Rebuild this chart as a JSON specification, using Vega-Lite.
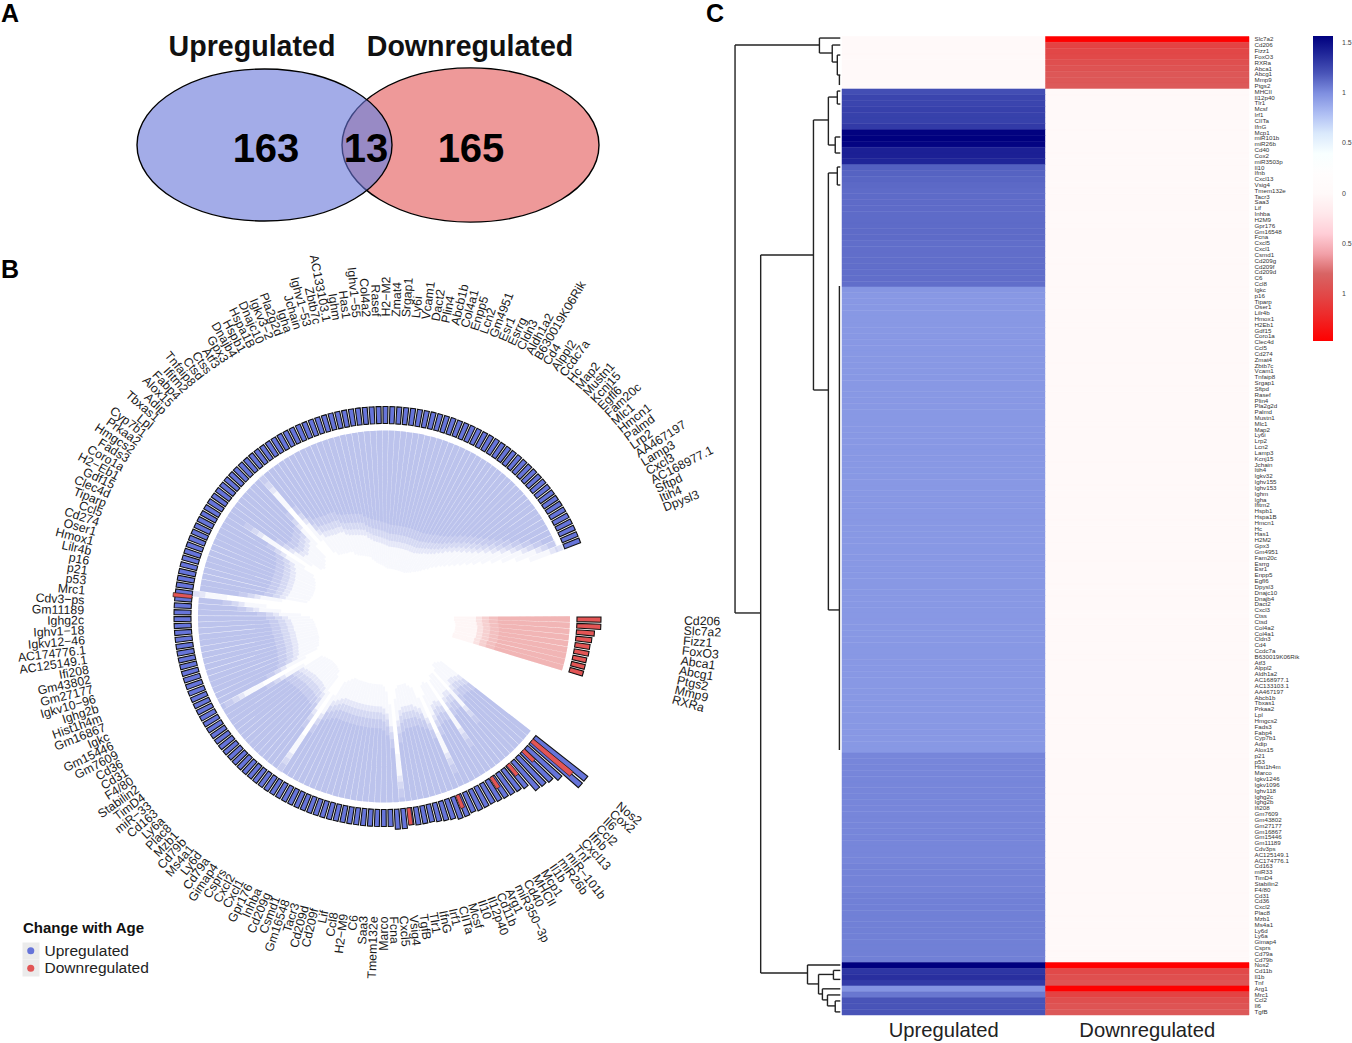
{"$schema":"https://vega.github.io/schema/vega-lite/v6.json","background":"white","padding":0,"spacing":0,"config":{"view":{"stroke":null},"font":"Liberation Sans","concat":{"spacing":0}},
"datasets":{"genes":[
{"g":"Cd206","p":-20,"a":-20.36,"b":-19.64,"r":217,"i":92,"d":"Downregulated"},
{"g":"Slc7a2","p":-19,"a":-19.36,"b":-18.64,"r":217,"i":92,"d":"Downregulated"},
{"g":"Fizz1","p":-18,"a":-18.36,"b":-17.64,"r":211,"i":93,"d":"Downregulated"},
{"g":"FoxO3","p":-17,"a":-17.36,"b":-16.64,"r":209,"i":94,"d":"Downregulated"},
{"g":"Abca1","p":-16,"a":-16.36,"b":-15.64,"r":208,"i":94,"d":"Downregulated"},
{"g":"Abcg1","p":-15,"a":-15.36,"b":-14.64,"r":208,"i":94,"d":"Downregulated"},
{"g":"Ptgs2","p":-14,"a":-14.36,"b":-13.64,"r":207,"i":94,"d":"Downregulated"},
{"g":"Mmp9","p":-13,"a":-13.36,"b":-12.64,"r":207,"i":93,"d":"Downregulated"},
{"g":"RXRa","p":-12,"a":-12.36,"b":-11.64,"r":207,"i":93,"d":"Downregulated"},
{"g":"Nos2","p":0,"a":-0.36,"b":0.36,"r":259,"i":94,"d":"Upregulated"},
{"g":"Cox2","p":1,"a":0.64,"b":1.36,"r":259,"i":92,"d":"Upregulated"},
{"g":"Il6","p":2,"a":1.64,"b":2.36,"r":239,"i":90,"d":"Upregulated"},
{"g":"Ccl2","p":3,"a":2.64,"b":3.36,"r":234,"i":90,"d":"Upregulated"},
{"g":"Ifnb","p":4,"a":3.64,"b":4.36,"r":232,"i":95,"d":"Upregulated"},
{"g":"Cxcl13","p":5,"a":4.64,"b":5.36,"r":231,"i":120,"d":"Upregulated"},
{"g":"Tnf","p":6,"a":5.64,"b":6.36,"r":222,"i":96,"d":"Upregulated"},
{"g":"miR−101b","p":7,"a":6.64,"b":7.36,"r":220,"i":96,"d":"Upregulated"},
{"g":"miR26b","p":8,"a":7.64,"b":8.36,"r":219,"i":100,"d":"Upregulated"},
{"g":"Il1b","p":9,"a":8.64,"b":9.36,"r":218,"i":135,"d":"Upregulated"},
{"g":"Mcp1","p":10,"a":9.64,"b":10.36,"r":217,"i":100,"d":"Upregulated"},
{"g":"MHCII","p":11,"a":10.64,"b":11.36,"r":216,"i":98,"d":"Upregulated"},
{"g":"Cd40","p":12,"a":11.64,"b":12.36,"r":216,"i":100,"d":"Upregulated"},
{"g":"miR350−3p","p":13,"a":12.64,"b":13.36,"r":216,"i":110,"d":"Upregulated"},
{"g":"Arg1","p":14,"a":13.64,"b":14.36,"r":215,"i":150,"d":"Upregulated"},
{"g":"Cd11b","p":15,"a":14.64,"b":15.36,"r":216,"i":110,"d":"Upregulated"},
{"g":"Il12p40","p":16,"a":15.64,"b":16.36,"r":216,"i":98,"d":"Upregulated"},
{"g":"Il10","p":17,"a":16.64,"b":17.36,"r":214,"i":95,"d":"Upregulated"},
{"g":"Mcsf","p":18,"a":17.64,"b":18.36,"r":213,"i":92,"d":"Upregulated"},
{"g":"CIITa","p":19,"a":18.64,"b":19.36,"r":212,"i":92,"d":"Upregulated"},
{"g":"Irf1","p":20,"a":19.64,"b":20.36,"r":211,"i":92,"d":"Upregulated"},
{"g":"IfnG","p":21,"a":20.64,"b":21.36,"r":211,"i":92,"d":"Upregulated"},
{"g":"Tlr1","p":22,"a":21.64,"b":22.36,"r":211,"i":95,"d":"Upregulated"},
{"g":"TgfB","p":23,"a":22.64,"b":23.36,"r":210,"i":105,"d":"Upregulated"},
{"g":"Vsig4","p":24,"a":23.64,"b":24.36,"r":213,"i":160,"d":"Upregulated"},
{"g":"Cxcl5","p":25,"a":24.64,"b":25.36,"r":213,"i":110,"d":"Upregulated"},
{"g":"Fcna","p":26,"a":25.64,"b":26.36,"r":210,"i":97,"d":"Upregulated"},
{"g":"Marco","p":27,"a":26.64,"b":27.36,"r":210,"i":92,"d":"Upregulated"},
{"g":"Tmem132e","p":28,"a":27.64,"b":28.36,"r":210,"i":90,"d":"Upregulated"},
{"g":"Saa3","p":29,"a":28.64,"b":29.36,"r":210,"i":90,"d":"Upregulated"},
{"g":"C6","p":30,"a":29.64,"b":30.36,"r":210,"i":90,"d":"Upregulated"},
{"g":"H2−M9","p":31,"a":30.64,"b":31.36,"r":210,"i":90,"d":"Upregulated"},
{"g":"Ccl8","p":32,"a":31.64,"b":32.36,"r":210,"i":90,"d":"Upregulated"},
{"g":"Lif","p":33,"a":32.64,"b":33.36,"r":210,"i":90,"d":"Upregulated"},
{"g":"Cd209f","p":34,"a":33.64,"b":34.36,"r":210,"i":90,"d":"Upregulated"},
{"g":"Cd209d","p":35,"a":34.64,"b":35.36,"r":210,"i":90,"d":"Upregulated"},
{"g":"Tacr3","p":36,"a":35.64,"b":36.36,"r":210,"i":90,"d":"Upregulated"},
{"g":"Gm16548","p":37,"a":36.64,"b":37.36,"r":210,"i":90,"d":"Upregulated"},
{"g":"Csmd1","p":38,"a":37.64,"b":38.36,"r":210,"i":90,"d":"Upregulated"},
{"g":"Cd209g","p":39,"a":38.64,"b":39.36,"r":210,"i":90,"d":"Upregulated"},
{"g":"Inhba","p":40,"a":39.64,"b":40.36,"r":210,"i":90,"d":"Upregulated"},
{"g":"Gpr176","p":41,"a":40.64,"b":41.36,"r":210,"i":92,"d":"Upregulated"},
{"g":"Cxcl1","p":42,"a":41.64,"b":42.36,"r":210,"i":95,"d":"Upregulated"},
{"g":"Cxcl2","p":43,"a":42.64,"b":43.36,"r":210,"i":98,"d":"Upregulated"},
{"g":"Csprs","p":44,"a":43.64,"b":44.36,"r":210,"i":115,"d":"Upregulated"},
{"g":"Gimap4","p":45,"a":44.64,"b":45.36,"r":210,"i":165,"d":"Upregulated"},
{"g":"Cd79a","p":46,"a":45.64,"b":46.36,"r":210,"i":115,"d":"Upregulated"},
{"g":"Ly6d","p":47,"a":46.64,"b":47.36,"r":210,"i":97,"d":"Upregulated"},
{"g":"Ms4a1","p":48,"a":47.64,"b":48.36,"r":210,"i":92,"d":"Upregulated"},
{"g":"Cd79b","p":49,"a":48.64,"b":49.36,"r":210,"i":91,"d":"Upregulated"},
{"g":"Mzb1","p":50,"a":49.64,"b":50.36,"r":210,"i":90,"d":"Upregulated"},
{"g":"Plac8","p":51,"a":50.64,"b":51.36,"r":210,"i":90,"d":"Upregulated"},
{"g":"Ly6a","p":52,"a":51.64,"b":52.36,"r":210,"i":90,"d":"Upregulated"},
{"g":"Cd163","p":53,"a":52.64,"b":53.36,"r":210,"i":90,"d":"Upregulated"},
{"g":"miR−33","p":54,"a":53.64,"b":54.36,"r":210,"i":91,"d":"Upregulated"},
{"g":"TimD4","p":55,"a":54.64,"b":55.36,"r":210,"i":92,"d":"Upregulated"},
{"g":"Stabilin2","p":56,"a":55.64,"b":56.36,"r":210,"i":93,"d":"Upregulated"},
{"g":"F4/80","p":57,"a":56.64,"b":57.36,"r":210,"i":95,"d":"Upregulated"},
{"g":"Cd31","p":58,"a":57.64,"b":58.36,"r":210,"i":115,"d":"Upregulated"},
{"g":"Cd36","p":59,"a":58.64,"b":59.36,"r":210,"i":160,"d":"Upregulated"},
{"g":"Gm7609","p":60,"a":59.64,"b":60.36,"r":210,"i":110,"d":"Upregulated"},
{"g":"Gm15446","p":61,"a":60.64,"b":61.36,"r":210,"i":96,"d":"Upregulated"},
{"g":"Igkc","p":62,"a":61.64,"b":62.36,"r":210,"i":93,"d":"Upregulated"},
{"g":"Gm16867","p":63,"a":62.64,"b":63.36,"r":210,"i":92,"d":"Upregulated"},
{"g":"Hist1h4m","p":64,"a":63.64,"b":64.36,"r":210,"i":91,"d":"Upregulated"},
{"g":"Ighg2b","p":65,"a":64.64,"b":65.36,"r":210,"i":90,"d":"Upregulated"},
{"g":"Igkv10−96","p":66,"a":65.64,"b":66.36,"r":210,"i":90,"d":"Upregulated"},
{"g":"Gm27177","p":67,"a":66.64,"b":67.36,"r":210,"i":90,"d":"Upregulated"},
{"g":"Gm43802","p":68,"a":67.64,"b":68.36,"r":210,"i":90,"d":"Upregulated"},
{"g":"Ifi208","p":69,"a":68.64,"b":69.36,"r":210,"i":90,"d":"Upregulated"},
{"g":"AC125149.1","p":70,"a":69.64,"b":70.36,"r":210,"i":91,"d":"Upregulated"},
{"g":"AC174776.1","p":71,"a":70.64,"b":71.36,"r":210,"i":91,"d":"Upregulated"},
{"g":"Igkv12−46","p":72,"a":71.64,"b":72.36,"r":210,"i":92,"d":"Upregulated"},
{"g":"Ighv1−18","p":73,"a":72.64,"b":73.36,"r":210,"i":93,"d":"Upregulated"},
{"g":"Ighg2c","p":74,"a":73.64,"b":74.36,"r":210,"i":96,"d":"Upregulated"},
{"g":"Gm11189","p":75,"a":74.64,"b":75.36,"r":210,"i":105,"d":"Upregulated"},
{"g":"Cdv3−ps","p":76,"a":75.64,"b":76.36,"r":210,"i":125,"d":"Upregulated"},
{"g":"Mrc1","p":77,"a":76.64,"b":77.36,"r":210,"i":140,"d":"Upregulated"},
{"g":"p53","p":78,"a":77.64,"b":78.36,"r":210,"i":180,"d":"Upregulated"},
{"g":"p21","p":79,"a":78.64,"b":79.36,"r":210,"i":125,"d":"Upregulated"},
{"g":"p16","p":80,"a":79.64,"b":80.36,"r":210,"i":100,"d":"Upregulated"},
{"g":"Lilr4b","p":81,"a":80.64,"b":81.36,"r":210,"i":98,"d":"Upregulated"},
{"g":"Hmox1","p":82,"a":81.64,"b":82.36,"r":210,"i":97,"d":"Upregulated"},
{"g":"Oser1","p":83,"a":82.64,"b":83.36,"r":210,"i":96,"d":"Upregulated"},
{"g":"Cd274","p":84,"a":83.64,"b":84.36,"r":210,"i":96,"d":"Upregulated"},
{"g":"Ccl5","p":85,"a":84.64,"b":85.36,"r":210,"i":96,"d":"Upregulated"},
{"g":"Tiparp","p":86,"a":85.64,"b":86.36,"r":210,"i":96,"d":"Upregulated"},
{"g":"Clec4d","p":87,"a":86.64,"b":87.36,"r":210,"i":97,"d":"Upregulated"},
{"g":"Gdf15","p":88,"a":87.64,"b":88.36,"r":210,"i":98,"d":"Upregulated"},
{"g":"H2−Eb1","p":89,"a":88.64,"b":89.36,"r":210,"i":100,"d":"Upregulated"},
{"g":"Coro1a","p":90,"a":89.64,"b":90.36,"r":210,"i":103,"d":"Upregulated"},
{"g":"Fads3","p":91,"a":90.64,"b":91.36,"r":210,"i":115,"d":"Upregulated"},
{"g":"Hmgcs2","p":92,"a":91.64,"b":92.36,"r":210,"i":145,"d":"Upregulated"},
{"g":"Prkaa2","p":93,"a":92.64,"b":93.36,"r":210,"i":110,"d":"Upregulated"},
{"g":"Cyp7b1","p":94,"a":93.64,"b":94.36,"r":210,"i":100,"d":"Upregulated"},
{"g":"Lpl","p":95,"a":94.64,"b":95.36,"r":210,"i":98,"d":"Upregulated"},
{"g":"Tbxas1","p":96,"a":95.64,"b":96.36,"r":210,"i":100,"d":"Upregulated"},
{"g":"Adip","p":97,"a":96.64,"b":97.36,"r":210,"i":102,"d":"Upregulated"},
{"g":"Alox15","p":98,"a":97.64,"b":98.36,"r":210,"i":105,"d":"Upregulated"},
{"g":"Fabp4","p":99,"a":98.64,"b":99.36,"r":210,"i":120,"d":"Upregulated"},
{"g":"Ifitm2","p":100,"a":99.64,"b":100.36,"r":210,"i":165,"d":"Upregulated"},
{"g":"Tnfaip8","p":101,"a":100.64,"b":101.36,"r":210,"i":120,"d":"Upregulated"},
{"g":"Ctsd","p":102,"a":101.64,"b":102.36,"r":210,"i":103,"d":"Upregulated"},
{"g":"Ctss","p":103,"a":102.64,"b":103.36,"r":210,"i":98,"d":"Upregulated"},
{"g":"Atf3","p":104,"a":103.64,"b":104.36,"r":210,"i":97,"d":"Upregulated"},
{"g":"Gpx3","p":105,"a":104.64,"b":105.36,"r":210,"i":96,"d":"Upregulated"},
{"g":"Dnajb4","p":106,"a":105.64,"b":106.36,"r":210,"i":95,"d":"Upregulated"},
{"g":"Hspb1","p":107,"a":106.64,"b":107.36,"r":210,"i":95,"d":"Upregulated"},
{"g":"Hspa1B","p":108,"a":107.64,"b":108.36,"r":210,"i":94,"d":"Upregulated"},
{"g":"Dnajc10","p":109,"a":108.64,"b":109.36,"r":210,"i":90,"d":"Upregulated"},
{"g":"Igkv3−2","p":110,"a":109.64,"b":110.36,"r":210,"i":88,"d":"Upregulated"},
{"g":"Pla2g2d","p":111,"a":110.64,"b":111.36,"r":210,"i":87,"d":"Upregulated"},
{"g":"Igha","p":112,"a":111.64,"b":112.36,"r":210,"i":86,"d":"Upregulated"},
{"g":"Jchain","p":113,"a":112.64,"b":113.36,"r":210,"i":85,"d":"Upregulated"},
{"g":"Ighv1−53","p":114,"a":113.64,"b":114.36,"r":210,"i":84,"d":"Upregulated"},
{"g":"Zbtb7c","p":115,"a":114.64,"b":115.36,"r":210,"i":83,"d":"Upregulated"},
{"g":"AC133103.1","p":116,"a":115.64,"b":116.36,"r":210,"i":80,"d":"Upregulated"},
{"g":"Ighm","p":117,"a":116.64,"b":117.36,"r":210,"i":78,"d":"Upregulated"},
{"g":"Has1","p":118,"a":117.64,"b":118.36,"r":210,"i":76,"d":"Upregulated"},
{"g":"Ighv1−55","p":119,"a":118.64,"b":119.36,"r":210,"i":75,"d":"Upregulated"},
{"g":"Col4a2","p":120,"a":119.64,"b":120.36,"r":210,"i":74,"d":"Upregulated"},
{"g":"Rasef","p":121,"a":120.64,"b":121.36,"r":210,"i":73,"d":"Upregulated"},
{"g":"H2−M2","p":122,"a":121.64,"b":122.36,"r":210,"i":72,"d":"Upregulated"},
{"g":"Zmat4","p":123,"a":122.64,"b":123.36,"r":210,"i":71,"d":"Upregulated"},
{"g":"Srgap1","p":124,"a":123.64,"b":124.36,"r":210,"i":70,"d":"Upregulated"},
{"g":"Ly6i","p":125,"a":124.64,"b":125.36,"r":210,"i":70,"d":"Upregulated"},
{"g":"Vcam1","p":126,"a":125.64,"b":126.36,"r":210,"i":70,"d":"Upregulated"},
{"g":"Dact2","p":127,"a":126.64,"b":127.36,"r":210,"i":70,"d":"Upregulated"},
{"g":"Plin4","p":128,"a":127.64,"b":128.36,"r":210,"i":70,"d":"Upregulated"},
{"g":"Abcb1b","p":129,"a":128.64,"b":129.36,"r":210,"i":70,"d":"Upregulated"},
{"g":"Col4a1","p":130,"a":129.64,"b":130.36,"r":210,"i":70,"d":"Upregulated"},
{"g":"Enpp5","p":131,"a":130.64,"b":131.36,"r":210,"i":70,"d":"Upregulated"},
{"g":"Lcn2","p":132,"a":131.64,"b":132.36,"r":210,"i":70,"d":"Upregulated"},
{"g":"Gm4951","p":133,"a":132.64,"b":133.36,"r":210,"i":70,"d":"Upregulated"},
{"g":"Esr1","p":134,"a":133.64,"b":134.36,"r":210,"i":70,"d":"Upregulated"},
{"g":"Esrrg","p":135,"a":134.64,"b":135.36,"r":210,"i":70,"d":"Upregulated"},
{"g":"Cldn3","p":136,"a":135.64,"b":136.36,"r":210,"i":71,"d":"Upregulated"},
{"g":"Aldh1a2","p":137,"a":136.64,"b":137.36,"r":210,"i":72,"d":"Upregulated"},
{"g":"B630019K06Rik","p":138,"a":137.64,"b":138.36,"r":210,"i":73,"d":"Upregulated"},
{"g":"Cd4","p":139,"a":138.64,"b":139.36,"r":210,"i":75,"d":"Upregulated"},
{"g":"Alppl2","p":140,"a":139.64,"b":140.36,"r":210,"i":76,"d":"Upregulated"},
{"g":"Ccdc7a","p":141,"a":140.64,"b":141.36,"r":210,"i":78,"d":"Upregulated"},
{"g":"Hc","p":142,"a":141.64,"b":142.36,"r":210,"i":80,"d":"Upregulated"},
{"g":"Map2","p":143,"a":142.64,"b":143.36,"r":210,"i":83,"d":"Upregulated"},
{"g":"Mustn1","p":144,"a":143.64,"b":144.36,"r":210,"i":86,"d":"Upregulated"},
{"g":"Kcnj15","p":145,"a":144.64,"b":145.36,"r":210,"i":90,"d":"Upregulated"},
{"g":"Egfl6","p":146,"a":145.64,"b":146.36,"r":210,"i":93,"d":"Upregulated"},
{"g":"Fam20c","p":147,"a":146.64,"b":147.36,"r":210,"i":97,"d":"Upregulated"},
{"g":"Mlc1","p":148,"a":147.64,"b":148.36,"r":210,"i":100,"d":"Upregulated"},
{"g":"Hmcn1","p":149,"a":148.64,"b":149.36,"r":210,"i":104,"d":"Upregulated"},
{"g":"Palmd","p":150,"a":149.64,"b":150.36,"r":210,"i":108,"d":"Upregulated"},
{"g":"Lrp2","p":151,"a":150.64,"b":151.36,"r":210,"i":113,"d":"Upregulated"},
{"g":"AA467197","p":152,"a":151.64,"b":152.36,"r":210,"i":119,"d":"Upregulated"},
{"g":"Lamp3","p":153,"a":152.64,"b":153.36,"r":210,"i":125,"d":"Upregulated"},
{"g":"Cxcl3","p":154,"a":153.64,"b":154.36,"r":210,"i":133,"d":"Upregulated"},
{"g":"AC168977.1","p":155,"a":154.64,"b":155.36,"r":210,"i":142,"d":"Upregulated"},
{"g":"Sftpd","p":156,"a":155.64,"b":156.36,"r":210,"i":152,"d":"Upregulated"},
{"g":"Itih4","p":157,"a":156.64,"b":157.36,"r":210,"i":165,"d":"Upregulated"},
{"g":"Dpysl3","p":158,"a":157.64,"b":158.36,"r":210,"i":178,"d":"Upregulated"}
],
"shared":[
{"g":"Nos2","a":0.3,"b":1.0,"r":245,"d":"Downregulated"},
{"g":"Il6","a":2.4,"b":3.0,"r":208,"d":"Downregulated"},
{"g":"Tnf","a":5.6,"b":6.2,"r":207,"d":"Downregulated"},
{"g":"Il1b","a":8.9,"b":9.5,"r":206,"d":"Downregulated"},
{"g":"Cd11b","a":14.9,"b":15.5,"r":207,"d":"Downregulated"},
{"g":"TgfB","a":22.8,"b":23.4,"r":210,"d":"Downregulated"},
{"g":"Mrc1","a":77.2,"b":77.8,"r":212,"d":"Downregulated"}
],
"bundles":[
{"b":"a","s":0,"x":-157,"y":-13},{"b":"a","s":1,"x":-91,"y":3},{"b":"a","s":2,"x":-41,"y":27},{"b":"a","s":3,"x":9,"y":57},{"b":"a","s":4,"x":53,"y":75},{"b":"a","s":5,"x":76,"y":90},
{"b":"b","s":0,"x":-184,"y":-30},{"b":"b","s":1,"x":-131,"y":-10},{"b":"b","s":2,"x":-84,"y":7},{"b":"b","s":3,"x":-37,"y":37},{"b":"b","s":4,"x":3,"y":73},{"b":"b","s":5,"x":21,"y":107},{"b":"b","s":6,"x":24,"y":140},
{"b":"c","s":0,"x":-134,"y":73},{"b":"c","s":1,"x":-84,"y":60},{"b":"c","s":2,"x":-37,"y":63},{"b":"c","s":3,"x":3,"y":75},{"b":"c","s":4,"x":23,"y":93},{"b":"c","s":5,"x":29,"y":120},
{"b":"d","s":0,"x":-61,"y":40},{"b":"d","s":1,"x":-61,"y":67},{"b":"d","s":2,"x":-37,"y":82},{"b":"d","s":3,"x":9,"y":85},
{"b":"e","s":0,"x":53,"y":75},{"b":"e","s":1,"x":69,"y":83},{"b":"e","s":2,"x":89,"y":103},{"b":"e","s":3,"x":109,"y":127},
{"b":"f","s":0,"x":53,"y":83},{"b":"f","s":1,"x":56,"y":107},{"b":"f","s":2,"x":69,"y":140},{"b":"f","s":3,"x":79,"y":163},
{"b":"g","s":0,"x":59,"y":67},{"b":"g","s":1,"x":76,"y":87},{"b":"g","s":2,"x":96,"y":117}
],
"redbundles":[
{"b":"r1","s":0,"x":91,"y":22},{"b":"r1","s":1,"x":63,"y":37},{"b":"r1","s":2,"x":39,"y":60},{"b":"r1","s":3,"x":26,"y":93},{"b":"r1","s":4,"x":21,"y":133},{"b":"r1","s":5,"x":23,"y":182},
{"b":"r2","s":0,"x":91,"y":18},{"b":"r2","s":1,"x":69,"y":32},{"b":"r2","s":2,"x":53,"y":53},{"b":"r2","s":3,"x":43,"y":90},{"b":"r2","s":4,"x":53,"y":127},{"b":"r2","s":5,"x":78,"y":163},
{"b":"r3","s":0,"x":93,"y":17},{"b":"r3","s":1,"x":59,"y":40},{"b":"r3","s":2,"x":53,"y":67},{"b":"r3","s":3,"x":69,"y":107},{"b":"r3","s":4,"x":103,"y":153}
],
"tree":[
{"h":3.53,"h2":3.53,"r":1.46,"r2":98.97},{"h":3.53,"h2":0.7,"r":1.46,"r2":1.46},{"h":3.53,"h2":2.67,"r":98.97,"r2":98.97},
{"h":2.67,"h2":2.67,"r":37.51,"r2":160.77},{"h":2.67,"h2":0.9,"r":37.51,"r2":37.51},{"h":2.67,"h2":1.1,"r":160.77,"r2":160.77},
{"h":0.9,"h2":0.9,"r":14.33,"r2":60.69},{"h":0.9,"h2":0.4,"r":14.33,"r2":14.33},{"h":0.9,"h2":0.4,"r":60.69,"r2":60.69},
{"h":0.4,"h2":0.4,"r":10.39,"r2":18.63},{"h":0.4,"h2":0.1,"r":10.39,"r2":10.39},{"h":0.4,"h2":0.17,"r":18.63,"r2":18.63},
{"h":0.1,"h2":0.1,"r":9.36,"r2":11.59},{"h":0.1,"h2":0,"r":9.36,"r2":9.36},{"h":0.1,"h2":0,"r":11.59,"r2":11.59},
{"h":0.17,"h2":0.17,"r":17.25,"r2":20},{"h":0.17,"h2":0,"r":17.25,"r2":17.25},{"h":0.17,"h2":0,"r":20,"r2":20},
{"h":0.4,"h2":0.4,"r":23.43,"r2":98.45},{"h":0.4,"h2":0.1,"r":23.43,"r2":23.43},{"h":0.4,"h2":0.03,"r":98.45,"r2":98.45},
{"h":0.1,"h2":0.1,"r":22.4,"r2":25.49},{"h":0.1,"h2":0,"r":22.4,"r2":22.4},{"h":0.1,"h2":0,"r":25.49,"r2":25.49},
{"h":0.03,"h2":0.03,"r":42.83,"r2":122.49},
{"h":0.7,"h2":0.7,"r":0.26,"r2":2.83},{"h":0.7,"h2":0,"r":0.26,"r2":0.26},{"h":0.7,"h2":0.27,"r":2.83,"r2":2.83},
{"h":0.27,"h2":0.27,"r":1.46,"r2":4.38},{"h":0.27,"h2":0,"r":1.46,"r2":1.46},{"h":0.27,"h2":0.1,"r":4.38,"r2":4.38},
{"h":0.1,"h2":0.1,"r":3.18,"r2":6.61},{"h":0.1,"h2":0,"r":3.18,"r2":3.18},{"h":0.1,"h2":0,"r":6.61,"r2":6.61},{"h":0.03,"h2":0.03,"r":6.61,"r2":8.33},
{"h":1.1,"h2":1.1,"r":159.4,"r2":162.66},{"h":1.1,"h2":0,"r":159.4,"r2":159.4},{"h":1.1,"h2":0.73,"r":162.66,"r2":162.66},
{"h":0.73,"h2":0.73,"r":161.03,"r2":164.38},{"h":0.73,"h2":0.23,"r":161.03,"r2":161.03},{"h":0.73,"h2":0.6,"r":164.38,"r2":164.38},
{"h":0.23,"h2":0.23,"r":160.34,"r2":161.88},{"h":0.23,"h2":0,"r":160.34,"r2":160.34},{"h":0.23,"h2":0,"r":161.88,"r2":161.88},
{"h":0.6,"h2":0.6,"r":163.5,"r2":165.4},{"h":0.6,"h2":0,"r":163.5,"r2":163.5},{"h":0.6,"h2":0.43,"r":165.4,"r2":165.4},
{"h":0.43,"h2":0.43,"r":164.55,"r2":166.43},{"h":0.43,"h2":0,"r":164.55,"r2":164.55},{"h":0.43,"h2":0.17,"r":166.43,"r2":166.43},
{"h":0.17,"h2":0.17,"r":165.58,"r2":167.46},{"h":0.17,"h2":0,"r":165.58,"r2":165.58},{"h":0.17,"h2":0,"r":167.46,"r2":167.46}
],
"heat":[
{"g":"Slc7a2","c":"Upregulated","v":0},{"g":"Slc7a2","c":"Downregulated","v":-1.47},
{"g":"Cd206","c":"Upregulated","v":0},{"g":"Cd206","c":"Downregulated","v":-1.05},
{"g":"Fizz1","c":"Upregulated","v":0},{"g":"Fizz1","c":"Downregulated","v":-1.02},
{"g":"FoxO3","c":"Upregulated","v":0},{"g":"FoxO3","c":"Downregulated","v":-1},
{"g":"RXRa","c":"Upregulated","v":0},{"g":"RXRa","c":"Downregulated","v":-0.96},
{"g":"Abca1","c":"Upregulated","v":0},{"g":"Abca1","c":"Downregulated","v":-0.93},
{"g":"Abcg1","c":"Upregulated","v":0},{"g":"Abcg1","c":"Downregulated","v":-0.9},
{"g":"Mmp9","c":"Upregulated","v":0},{"g":"Mmp9","c":"Downregulated","v":-0.9},
{"g":"Ptgs2","c":"Upregulated","v":0},{"g":"Ptgs2","c":"Downregulated","v":-0.88},
{"g":"MHCII","c":"Upregulated","v":1.22},{"g":"MHCII","c":"Downregulated","v":0},
{"g":"Il12p40","c":"Upregulated","v":1.25},{"g":"Il12p40","c":"Downregulated","v":0},
{"g":"Tlr1","c":"Upregulated","v":1.25},{"g":"Tlr1","c":"Downregulated","v":0},
{"g":"Mcsf","c":"Upregulated","v":1.27},{"g":"Mcsf","c":"Downregulated","v":0},
{"g":"Irf1","c":"Upregulated","v":1.27},{"g":"Irf1","c":"Downregulated","v":0},
{"g":"CIITa","c":"Upregulated","v":1.27},{"g":"CIITa","c":"Downregulated","v":0},
{"g":"IfnG","c":"Upregulated","v":1.3},{"g":"IfnG","c":"Downregulated","v":0},
{"g":"Mcp1","c":"Upregulated","v":1.56},{"g":"Mcp1","c":"Downregulated","v":0},
{"g":"miR101b","c":"Upregulated","v":1.57},{"g":"miR101b","c":"Downregulated","v":0},
{"g":"miR26b","c":"Upregulated","v":1.55},{"g":"miR26b","c":"Downregulated","v":0},
{"g":"Cd40","c":"Upregulated","v":1.42},{"g":"Cd40","c":"Downregulated","v":0},
{"g":"Cox2","c":"Upregulated","v":1.42},{"g":"Cox2","c":"Downregulated","v":0},
{"g":"miR3503p","c":"Upregulated","v":1.4},{"g":"miR3503p","c":"Downregulated","v":0},
{"g":"Il10","c":"Upregulated","v":1.16},{"g":"Il10","c":"Downregulated","v":0},
{"g":"Ifnb","c":"Upregulated","v":1.15},{"g":"Ifnb","c":"Downregulated","v":0},
{"g":"Cxcl13","c":"Upregulated","v":1.14},{"g":"Cxcl13","c":"Downregulated","v":0},
{"g":"Vsig4","c":"Upregulated","v":1.13},{"g":"Vsig4","c":"Downregulated","v":0},
{"g":"Tmem132e","c":"Upregulated","v":1.12},{"g":"Tmem132e","c":"Downregulated","v":0},
{"g":"Tacr3","c":"Upregulated","v":1.12},{"g":"Tacr3","c":"Downregulated","v":0},
{"g":"Saa3","c":"Upregulated","v":1.12},{"g":"Saa3","c":"Downregulated","v":0},
{"g":"Lif","c":"Upregulated","v":1.12},{"g":"Lif","c":"Downregulated","v":0},
{"g":"Inhba","c":"Upregulated","v":1.12},{"g":"Inhba","c":"Downregulated","v":0},
{"g":"H2M9","c":"Upregulated","v":1.12},{"g":"H2M9","c":"Downregulated","v":0},
{"g":"Gpr176","c":"Upregulated","v":1.12},{"g":"Gpr176","c":"Downregulated","v":0},
{"g":"Gm16548","c":"Upregulated","v":1.12},{"g":"Gm16548","c":"Downregulated","v":0},
{"g":"Fcna","c":"Upregulated","v":1.12},{"g":"Fcna","c":"Downregulated","v":0},
{"g":"Cxcl5","c":"Upregulated","v":1.11},{"g":"Cxcl5","c":"Downregulated","v":0},
{"g":"Cxcl1","c":"Upregulated","v":1.11},{"g":"Cxcl1","c":"Downregulated","v":0},
{"g":"Csmd1","c":"Upregulated","v":1.11},{"g":"Csmd1","c":"Downregulated","v":0},
{"g":"Cd209g","c":"Upregulated","v":1.11},{"g":"Cd209g","c":"Downregulated","v":0},
{"g":"Cd209f","c":"Upregulated","v":1.11},{"g":"Cd209f","c":"Downregulated","v":0},
{"g":"Cd209d","c":"Upregulated","v":1.11},{"g":"Cd209d","c":"Downregulated","v":0},
{"g":"C6","c":"Upregulated","v":1.11},{"g":"C6","c":"Downregulated","v":0},
{"g":"Ccl8","c":"Upregulated","v":1.11},{"g":"Ccl8","c":"Downregulated","v":0},
{"g":"Igkc","c":"Upregulated","v":0.97},{"g":"Igkc","c":"Downregulated","v":0},
{"g":"p16","c":"Upregulated","v":0.96},{"g":"p16","c":"Downregulated","v":0},
{"g":"Tiparp","c":"Upregulated","v":0.96},{"g":"Tiparp","c":"Downregulated","v":0},
{"g":"Oser1","c":"Upregulated","v":0.96},{"g":"Oser1","c":"Downregulated","v":0},
{"g":"Lilr4b","c":"Upregulated","v":0.96},{"g":"Lilr4b","c":"Downregulated","v":0},
{"g":"Hmox1","c":"Upregulated","v":0.96},{"g":"Hmox1","c":"Downregulated","v":0},
{"g":"H2Eb1","c":"Upregulated","v":0.96},{"g":"H2Eb1","c":"Downregulated","v":0},
{"g":"Gdf15","c":"Upregulated","v":0.96},{"g":"Gdf15","c":"Downregulated","v":0},
{"g":"Coro1a","c":"Upregulated","v":0.96},{"g":"Coro1a","c":"Downregulated","v":0},
{"g":"Clec4d","c":"Upregulated","v":0.96},{"g":"Clec4d","c":"Downregulated","v":0},
{"g":"Ccl5","c":"Upregulated","v":0.96},{"g":"Ccl5","c":"Downregulated","v":0},
{"g":"Cd274","c":"Upregulated","v":0.96},{"g":"Cd274","c":"Downregulated","v":0},
{"g":"Zmat4","c":"Upregulated","v":0.96},{"g":"Zmat4","c":"Downregulated","v":0},
{"g":"Zbtb7c","c":"Upregulated","v":0.96},{"g":"Zbtb7c","c":"Downregulated","v":0},
{"g":"Vcam1","c":"Upregulated","v":0.96},{"g":"Vcam1","c":"Downregulated","v":0},
{"g":"Tnfaip8","c":"Upregulated","v":0.96},{"g":"Tnfaip8","c":"Downregulated","v":0},
{"g":"Srgap1","c":"Upregulated","v":0.96},{"g":"Srgap1","c":"Downregulated","v":0},
{"g":"Sftpd","c":"Upregulated","v":0.96},{"g":"Sftpd","c":"Downregulated","v":0},
{"g":"Rasef","c":"Upregulated","v":0.96},{"g":"Rasef","c":"Downregulated","v":0},
{"g":"Plin4","c":"Upregulated","v":0.96},{"g":"Plin4","c":"Downregulated","v":0},
{"g":"Pla2g2d","c":"Upregulated","v":0.96},{"g":"Pla2g2d","c":"Downregulated","v":0},
{"g":"Palmd","c":"Upregulated","v":0.96},{"g":"Palmd","c":"Downregulated","v":0},
{"g":"Mustn1","c":"Upregulated","v":0.96},{"g":"Mustn1","c":"Downregulated","v":0},
{"g":"Mlc1","c":"Upregulated","v":0.96},{"g":"Mlc1","c":"Downregulated","v":0},
{"g":"Map2","c":"Upregulated","v":0.96},{"g":"Map2","c":"Downregulated","v":0},
{"g":"Ly6i","c":"Upregulated","v":0.96},{"g":"Ly6i","c":"Downregulated","v":0},
{"g":"Lrp2","c":"Upregulated","v":0.96},{"g":"Lrp2","c":"Downregulated","v":0},
{"g":"Lcn2","c":"Upregulated","v":0.96},{"g":"Lcn2","c":"Downregulated","v":0},
{"g":"Lamp3","c":"Upregulated","v":0.96},{"g":"Lamp3","c":"Downregulated","v":0},
{"g":"Kcnj15","c":"Upregulated","v":0.96},{"g":"Kcnj15","c":"Downregulated","v":0},
{"g":"Jchain","c":"Upregulated","v":0.96},{"g":"Jchain","c":"Downregulated","v":0},
{"g":"Itih4","c":"Upregulated","v":0.96},{"g":"Itih4","c":"Downregulated","v":0},
{"g":"Igkv32","c":"Upregulated","v":0.96},{"g":"Igkv32","c":"Downregulated","v":0},
{"g":"Ighv155","c":"Upregulated","v":0.96},{"g":"Ighv155","c":"Downregulated","v":0},
{"g":"Ighv153","c":"Upregulated","v":0.96},{"g":"Ighv153","c":"Downregulated","v":0},
{"g":"Ighm","c":"Upregulated","v":0.96},{"g":"Ighm","c":"Downregulated","v":0},
{"g":"Igha","c":"Upregulated","v":0.96},{"g":"Igha","c":"Downregulated","v":0},
{"g":"Ifitm2","c":"Upregulated","v":0.96},{"g":"Ifitm2","c":"Downregulated","v":0},
{"g":"Hspb1","c":"Upregulated","v":0.96},{"g":"Hspb1","c":"Downregulated","v":0},
{"g":"Hspa1B","c":"Upregulated","v":0.96},{"g":"Hspa1B","c":"Downregulated","v":0},
{"g":"Hmcn1","c":"Upregulated","v":0.96},{"g":"Hmcn1","c":"Downregulated","v":0},
{"g":"Hc","c":"Upregulated","v":0.96},{"g":"Hc","c":"Downregulated","v":0},
{"g":"Has1","c":"Upregulated","v":0.96},{"g":"Has1","c":"Downregulated","v":0},
{"g":"H2M2","c":"Upregulated","v":0.96},{"g":"H2M2","c":"Downregulated","v":0},
{"g":"Gpx3","c":"Upregulated","v":0.96},{"g":"Gpx3","c":"Downregulated","v":0},
{"g":"Gm4951","c":"Upregulated","v":0.96},{"g":"Gm4951","c":"Downregulated","v":0},
{"g":"Fam20c","c":"Upregulated","v":0.96},{"g":"Fam20c","c":"Downregulated","v":0},
{"g":"Esrrg","c":"Upregulated","v":0.96},{"g":"Esrrg","c":"Downregulated","v":0},
{"g":"Esr1","c":"Upregulated","v":0.96},{"g":"Esr1","c":"Downregulated","v":0},
{"g":"Enpp5","c":"Upregulated","v":0.96},{"g":"Enpp5","c":"Downregulated","v":0},
{"g":"Egfl6","c":"Upregulated","v":0.96},{"g":"Egfl6","c":"Downregulated","v":0},
{"g":"Dpysl3","c":"Upregulated","v":0.96},{"g":"Dpysl3","c":"Downregulated","v":0},
{"g":"Dnajc10","c":"Upregulated","v":0.96},{"g":"Dnajc10","c":"Downregulated","v":0},
{"g":"Dnajb4","c":"Upregulated","v":0.96},{"g":"Dnajb4","c":"Downregulated","v":0},
{"g":"Dact2","c":"Upregulated","v":0.96},{"g":"Dact2","c":"Downregulated","v":0},
{"g":"Cxcl3","c":"Upregulated","v":0.96},{"g":"Cxcl3","c":"Downregulated","v":0},
{"g":"Ctss","c":"Upregulated","v":0.96},{"g":"Ctss","c":"Downregulated","v":0},
{"g":"Ctsd","c":"Upregulated","v":0.96},{"g":"Ctsd","c":"Downregulated","v":0},
{"g":"Col4a2","c":"Upregulated","v":0.96},{"g":"Col4a2","c":"Downregulated","v":0},
{"g":"Col4a1","c":"Upregulated","v":0.96},{"g":"Col4a1","c":"Downregulated","v":0},
{"g":"Cldn3","c":"Upregulated","v":0.96},{"g":"Cldn3","c":"Downregulated","v":0},
{"g":"Cd4","c":"Upregulated","v":0.96},{"g":"Cd4","c":"Downregulated","v":0},
{"g":"Ccdc7a","c":"Upregulated","v":0.96},{"g":"Ccdc7a","c":"Downregulated","v":0},
{"g":"B630019K06Rik","c":"Upregulated","v":0.96},{"g":"B630019K06Rik","c":"Downregulated","v":0},
{"g":"Atf3","c":"Upregulated","v":0.96},{"g":"Atf3","c":"Downregulated","v":0},
{"g":"Alppl2","c":"Upregulated","v":0.96},{"g":"Alppl2","c":"Downregulated","v":0},
{"g":"Aldh1a2","c":"Upregulated","v":0.96},{"g":"Aldh1a2","c":"Downregulated","v":0},
{"g":"AC168977.1","c":"Upregulated","v":0.96},{"g":"AC168977.1","c":"Downregulated","v":0},
{"g":"AC133103.1","c":"Upregulated","v":0.96},{"g":"AC133103.1","c":"Downregulated","v":0},
{"g":"AA467197","c":"Upregulated","v":0.96},{"g":"AA467197","c":"Downregulated","v":0},
{"g":"Abcb1b","c":"Upregulated","v":0.96},{"g":"Abcb1b","c":"Downregulated","v":0},
{"g":"Tbxas1","c":"Upregulated","v":0.96},{"g":"Tbxas1","c":"Downregulated","v":0},
{"g":"Prkaa2","c":"Upregulated","v":0.96},{"g":"Prkaa2","c":"Downregulated","v":0},
{"g":"Lpl","c":"Upregulated","v":0.96},{"g":"Lpl","c":"Downregulated","v":0},
{"g":"Hmgcs2","c":"Upregulated","v":0.96},{"g":"Hmgcs2","c":"Downregulated","v":0},
{"g":"Fads3","c":"Upregulated","v":0.96},{"g":"Fads3","c":"Downregulated","v":0},
{"g":"Fabp4","c":"Upregulated","v":0.96},{"g":"Fabp4","c":"Downregulated","v":0},
{"g":"Cyp7b1","c":"Upregulated","v":0.96},{"g":"Cyp7b1","c":"Downregulated","v":0},
{"g":"Adip","c":"Upregulated","v":0.96},{"g":"Adip","c":"Downregulated","v":0},
{"g":"Alox15","c":"Upregulated","v":0.96},{"g":"Alox15","c":"Downregulated","v":0},
{"g":"p21","c":"Upregulated","v":1.03},{"g":"p21","c":"Downregulated","v":0},
{"g":"p53","c":"Upregulated","v":1.03},{"g":"p53","c":"Downregulated","v":0},
{"g":"Hist1h4m","c":"Upregulated","v":1.03},{"g":"Hist1h4m","c":"Downregulated","v":0},
{"g":"Marco","c":"Upregulated","v":1.03},{"g":"Marco","c":"Downregulated","v":0},
{"g":"Igkv1246","c":"Upregulated","v":1.03},{"g":"Igkv1246","c":"Downregulated","v":0},
{"g":"Igkv1096","c":"Upregulated","v":1.03},{"g":"Igkv1096","c":"Downregulated","v":0},
{"g":"Ighv118","c":"Upregulated","v":1.03},{"g":"Ighv118","c":"Downregulated","v":0},
{"g":"Ighg2c","c":"Upregulated","v":1.03},{"g":"Ighg2c","c":"Downregulated","v":0},
{"g":"Ighg2b","c":"Upregulated","v":1.03},{"g":"Ighg2b","c":"Downregulated","v":0},
{"g":"Ifi208","c":"Upregulated","v":1.03},{"g":"Ifi208","c":"Downregulated","v":0},
{"g":"Gm7609","c":"Upregulated","v":1.03},{"g":"Gm7609","c":"Downregulated","v":0},
{"g":"Gm43802","c":"Upregulated","v":1.03},{"g":"Gm43802","c":"Downregulated","v":0},
{"g":"Gm27177","c":"Upregulated","v":1.03},{"g":"Gm27177","c":"Downregulated","v":0},
{"g":"Gm16867","c":"Upregulated","v":1.03},{"g":"Gm16867","c":"Downregulated","v":0},
{"g":"Gm15446","c":"Upregulated","v":1.03},{"g":"Gm15446","c":"Downregulated","v":0},
{"g":"Gm11189","c":"Upregulated","v":1.03},{"g":"Gm11189","c":"Downregulated","v":0},
{"g":"Cdv3ps","c":"Upregulated","v":1.03},{"g":"Cdv3ps","c":"Downregulated","v":0},
{"g":"AC125149.1","c":"Upregulated","v":1.03},{"g":"AC125149.1","c":"Downregulated","v":0},
{"g":"AC174776.1","c":"Upregulated","v":1.03},{"g":"AC174776.1","c":"Downregulated","v":0},
{"g":"Cd163","c":"Upregulated","v":1.04},{"g":"Cd163","c":"Downregulated","v":0},
{"g":"miR33","c":"Upregulated","v":1.04},{"g":"miR33","c":"Downregulated","v":0},
{"g":"TimD4","c":"Upregulated","v":1.04},{"g":"TimD4","c":"Downregulated","v":0},
{"g":"Stabilin2","c":"Upregulated","v":1.04},{"g":"Stabilin2","c":"Downregulated","v":0},
{"g":"F4/80","c":"Upregulated","v":1.04},{"g":"F4/80","c":"Downregulated","v":0},
{"g":"Cd31","c":"Upregulated","v":1.05},{"g":"Cd31","c":"Downregulated","v":0},
{"g":"Cd36","c":"Upregulated","v":1.05},{"g":"Cd36","c":"Downregulated","v":0},
{"g":"Cxcl2","c":"Upregulated","v":1.05},{"g":"Cxcl2","c":"Downregulated","v":0},
{"g":"Plac8","c":"Upregulated","v":1.05},{"g":"Plac8","c":"Downregulated","v":0},
{"g":"Mzb1","c":"Upregulated","v":1.05},{"g":"Mzb1","c":"Downregulated","v":0},
{"g":"Ms4a1","c":"Upregulated","v":1.05},{"g":"Ms4a1","c":"Downregulated","v":0},
{"g":"Ly6d","c":"Upregulated","v":1.05},{"g":"Ly6d","c":"Downregulated","v":0},
{"g":"Ly6a","c":"Upregulated","v":1.05},{"g":"Ly6a","c":"Downregulated","v":0},
{"g":"Gimap4","c":"Upregulated","v":1.05},{"g":"Gimap4","c":"Downregulated","v":0},
{"g":"Csprs","c":"Upregulated","v":1.05},{"g":"Csprs","c":"Downregulated","v":0},
{"g":"Cd79a","c":"Upregulated","v":1.05},{"g":"Cd79a","c":"Downregulated","v":0},
{"g":"Cd79b","c":"Upregulated","v":1.05},{"g":"Cd79b","c":"Downregulated","v":0},
{"g":"Nos2","c":"Upregulated","v":1.57},{"g":"Nos2","c":"Downregulated","v":-1.47},
{"g":"Cd11b","c":"Upregulated","v":1.32},{"g":"Cd11b","c":"Downregulated","v":-1},
{"g":"Il1b","c":"Upregulated","v":1.35},{"g":"Il1b","c":"Downregulated","v":-0.96},
{"g":"Tnf","c":"Upregulated","v":1.3},{"g":"Tnf","c":"Downregulated","v":-0.92},
{"g":"Arg1","c":"Upregulated","v":0.98},{"g":"Arg1","c":"Downregulated","v":-1.47},
{"g":"Mrc1","c":"Upregulated","v":1.08},{"g":"Mrc1","c":"Downregulated","v":-1.05},
{"g":"Ccl2","c":"Upregulated","v":1.2},{"g":"Ccl2","c":"Downregulated","v":-0.96},
{"g":"Il6","c":"Upregulated","v":1.2},{"g":"Il6","c":"Downregulated","v":-0.92},
{"g":"TgfB","c":"Upregulated","v":1.2},{"g":"TgfB","c":"Downregulated","v":-0.88}
]},
"hconcat":[
{"spacing":0,"vconcat":[
{"width":726,"height":250,
"encoding":{"x":{"field":"cx","type":"quantitative","scale":{"domain":[0,72.6]},"axis":null},"y":{"field":"cy","type":"quantitative","scale":{"domain":[0,25],"range":[0,250]},"axis":null}},
"layer":[
{"data":{"values":[{"set":"Downregulated","cx":47.05,"cy":14.5}]},"mark":{"type":"point","filled":true,"shape":"M-1,0A1,0.6 0 1,1 1,0A1,0.6 0 1,1 -1,0Z","size":66049,"fill":"#E25555","fillOpacity":0.6,"stroke":"#000","strokeWidth":1.4,"strokeOpacity":1,"opacity":1}},
{"data":{"values":[{"set":"Upregulated","cx":26.45,"cy":14.5}]},"mark":{"type":"point","filled":true,"shape":"M-1,0A1,0.596 0 1,1 1,0A1,0.596 0 1,1 -1,0Z","size":65025,"fill":"#6674D9","fillOpacity":0.6,"stroke":"#000","strokeWidth":1.4,"strokeOpacity":1,"opacity":1}},
{"data":{"values":[{"set":"Overlap","cx":36.7,"cy":14.5}]},"mark":{"type":"point","filled":true,"shape":"M0,-0.35A1,0.596 0 0,1 0,0.35A1.008,0.604 0 0,1 0,-0.35Z","size":65025,"fill":"#8CA0D8","fillOpacity":0.25,"strokeWidth":0,"opacity":1}},
{"data":{"values":[{"t":"Upregulated","cx":25.2,"cy":4.7},{"t":"Downregulated","cx":47,"cy":4.7}]},"mark":{"type":"text","fontWeight":"bold","fontSize":28.6,"color":"#111"},"encoding":{"text":{"field":"t"}}},
{"data":{"values":[{"t":"163","cx":26.6,"cy":15},{"t":"13","cx":36.6,"cy":15},{"t":"165","cx":47.1,"cy":15}]},"mark":{"type":"text","fontWeight":"bold","fontSize":40,"color":"#000"},"encoding":{"text":{"field":"t"}}},
{"data":{"values":[{"t":"A","cx":1,"cy":1.4},{"t":"C","cx":71.5,"cy":1.4}]},"mark":{"type":"text","fontWeight":"bold","fontSize":25,"color":"#000"},"encoding":{"text":{"field":"t"}}}
]},
{"width":726,"height":793,
"encoding":{"x":{"datum":0,"type":"quantitative","scale":{"domain":[-384,342]},"axis":null},"y":{"datum":0,"type":"quantitative","scale":{"domain":[-366.5,426.5],"range":[0,793]},"axis":null}},
"layer":[
{"data":{"values":[{"k":"Upregulated"}]},"mark":{"type":"point","shape":"square","filled":true,"color":"#EBEBEB","size":289,"opacity":1},"encoding":{"x":{"datum":-353,"type":"quantitative","axis":null},"y":{"datum":334.5,"type":"quantitative","axis":null}}},
{"data":{"values":[{"k":"Downregulated"}]},"mark":{"type":"point","shape":"square","filled":true,"color":"#EBEBEB","size":289,"opacity":1},"encoding":{"x":{"datum":-353,"type":"quantitative","axis":null},"y":{"datum":351.5,"type":"quantitative","axis":null}}},
{"data":{"name":"genes"},"mark":{"type":"arc","stroke":"#111","strokeWidth":1.1},"encoding":{"theta":{"field":"a","type":"quantitative","stack":false,"scale":{"domain":[0,158],"range":[2.248,7.483],"zero":false,"nice":false}},"theta2":{"field":"b"},"radius":{"field":"r","type":"quantitative","scale":{"domain":[0,300],"range":[0,300],"zero":false,"nice":false}},"radius2":{"value":193},"color":{"field":"d","type":"nominal","scale":{"domain":["Upregulated","Downregulated"],"range":["#6674D9","#E25555"]},"legend":{"title":"Change with Age","orient":"none","legendX":23,"legendY":921,"titleFontSize":15,"titleFontWeight":"bold","titleColor":"#111","labelFontSize":15.5,"labelColor":"#222","symbolType":"circle","symbolSize":50,"symbolStrokeWidth":0,"symbolOffset":0,"labelOffset":6,"rowPadding":0.5,"titlePadding":7,"titleFont":"Liberation Sans","labelFont":"Liberation Sans"}}}},
{"data":{"name":"shared"},"mark":{"type":"arc","stroke":"#111","strokeWidth":0.6},"encoding":{"theta":{"field":"a","type":"quantitative","stack":false},"theta2":{"field":"b"},"radius":{"field":"r","type":"quantitative"},"radius2":{"value":193},"color":{"field":"d","type":"nominal"}}},
{"data":{"name":"genes"},"mark":{"type":"arc","thetaOffset":-0.0035,"theta2Offset":0.0035,"radiusOffset":-22,"opacity":0.05},"encoding":{"theta":{"field":"a","type":"quantitative","stack":false},"theta2":{"field":"b"},"radius":{"field":"i","type":"quantitative"},"radius2":{"value":186},"color":{"field":"d","type":"nominal"}}},
{"data":{"name":"genes"},"mark":{"type":"arc","thetaOffset":-0.0035,"theta2Offset":0.0035,"opacity":0.12},"encoding":{"theta":{"field":"a","type":"quantitative","stack":false},"theta2":{"field":"b"},"radius":{"field":"i","type":"quantitative"},"radius2":{"value":186},"color":{"field":"d","type":"nominal"}}},
{"data":{"name":"genes"},"mark":{"type":"arc","thetaOffset":-0.0035,"theta2Offset":0.0035,"radiusOffset":6,"opacity":0.12},"encoding":{"theta":{"field":"a","type":"quantitative","stack":false},"theta2":{"field":"b"},"radius":{"field":"i","type":"quantitative"},"radius2":{"value":186},"color":{"field":"d","type":"nominal"}}},
{"data":{"name":"genes"},"mark":{"type":"arc","thetaOffset":-0.0035,"theta2Offset":0.0035,"radiusOffset":13,"opacity":0.12},"encoding":{"theta":{"field":"a","type":"quantitative","stack":false},"theta2":{"field":"b"},"radius":{"field":"i","type":"quantitative"},"radius2":{"value":186},"color":{"field":"d","type":"nominal"}}},
{"data":{"name":"genes"},"mark":{"type":"arc","thetaOffset":-0.0035,"theta2Offset":0.0035,"radiusOffset":22,"opacity":0.1},"encoding":{"theta":{"field":"a","type":"quantitative","stack":false},"theta2":{"field":"b"},"radius":{"field":"i","type":"quantitative"},"radius2":{"value":186},"color":{"field":"d","type":"nominal"}}},
{"data":{"name":"bundles"},"mark":{"type":"line","interpolate":"basis","color":"#6674D9","strokeWidth":2.5,"opacity":0.2},"encoding":{"x":{"field":"x","type":"quantitative","axis":null},"y":{"field":"y","type":"quantitative","axis":null},"detail":{"field":"b"},"order":{"field":"s"}}},
{"data":{"name":"redbundles"},"mark":{"type":"line","interpolate":"basis","color":"#E25555","strokeWidth":1.8,"opacity":0.25},"encoding":{"x":{"field":"x","type":"quantitative","axis":null},"y":{"field":"y","type":"quantitative","axis":null},"detail":{"field":"b"},"order":{"field":"s"}}},
{"data":{"name":"genes"},"transform":[{"filter":"datum.p<27||datum.p>=122"}],"mark":{"type":"text","radius":300,"align":"left","baseline":"middle","fontSize":12.3,"color":"#1a1a1a"},"encoding":{"theta":{"field":"p","type":"quantitative","stack":false},"text":{"field":"g"},"angle":{"field":"p","type":"quantitative","scale":{"domain":[0,158],"range":[38.8,338.5],"zero":false,"nice":false}}}},
{"data":{"name":"genes"},"transform":[{"filter":"datum.p>=27&&datum.p<122"}],"mark":{"type":"text","radius":300,"align":"right","baseline":"middle","fontSize":12.3,"color":"#1a1a1a"},"encoding":{"theta":{"field":"p","type":"quantitative","stack":false},"text":{"field":"g"},"angle":{"field":"p","type":"quantitative","scale":{"domain":[0,158],"range":[-141.2,158.5],"zero":false,"nice":false}}}},
{"data":{"values":[{"t":"B"}]},"mark":{"type":"text","fontWeight":"bold","fontSize":25,"color":"#000"},"encoding":{"x":{"datum":-374,"type":"quantitative","axis":null},"y":{"datum":-346.5,"type":"quantitative","axis":null},"text":{"field":"t"}}}
],"resolve":{"scale":{"theta":"shared","radius":"shared","angle":"independent"}}}
]},
{"width":113,"height":1043,"data":{"name":"tree"},"mark":{"type":"rule","color":"#222","strokeWidth":1.4},"encoding":{"x":{"field":"h","type":"quantitative","scale":{"domain":[3.833,0],"range":[0,114.3]},"axis":null},"x2":{"field":"h2"},"y":{"field":"r","type":"quantitative","scale":{"domain":[-6.27,172.8],"range":[0,1043]},"axis":null},"y2":{"field":"r2"}}},
{"width":407,"height":1043,"data":{"name":"heat"},"mark":{"type":"rect","strokeWidth":0.5},"encoding":{
"x":{"field":"c","type":"nominal","sort":["Upregulated","Downregulated"],"scale":{"paddingInner":0,"paddingOuter":0},"axis":{"title":null,"orient":"bottom","offset":-23,"domain":false,"ticks":false,"labelAngle":0,"labelFontSize":20.2,"labelColor":"#222","labelPadding":0,"labelFont":"Liberation Sans"}},
"y":{"field":"g","type":"nominal","sort":null,"scale":{"range":[36.5,1015],"paddingInner":0,"paddingOuter":0},"axis":{"title":null,"orient":"right","domain":false,"ticks":false,"labelFontSize":6.2,"labelColor":"#333","labelPadding":5,"labelOverlap":false,"labelFont":"Liberation Sans"}},
"stroke":{"field":"v","type":"quantitative","scale":{"domain":[-1.47,-1.1,-0.8,-0.5,-0.25,0,0.3,0.5,0.75,1,1.25,1.57],"range":["#FF0000","#E63C3C","#D86464","#FFC0CB","#FFE4E8","#FFF9F9","#FFFFFF","#F0FFFF","#B8C8F8","#7F8FE0","#3B45AE","#00007F"],"interpolate":"rgb"},"legend":null},
"color":{"field":"v","type":"quantitative","scale":{"domain":[-1.47,-1.1,-0.8,-0.5,-0.25,0,0.3,0.5,0.75,1,1.25,1.57],"range":["#FF0000","#E63C3C","#D86464","#FFC0CB","#FFE4E8","#FFF9F9","#FFFFFF","#F0FFFF","#B8C8F8","#7F8FE0","#3B45AE","#00007F"],"interpolate":"rgb"},"legend":{"title":null,"orient":"none","legendX":471,"legendY":36,"gradientLength":305,"gradientThickness":20,"values":[-1,-0.5,0,0.5,1,1.5],"labelExpr":"abs(datum.value)","labelFontSize":7,"labelColor":"#444","labelOffset":9,"gradientStrokeWidth":0,"tickColor":"transparent"}}}}
]}
